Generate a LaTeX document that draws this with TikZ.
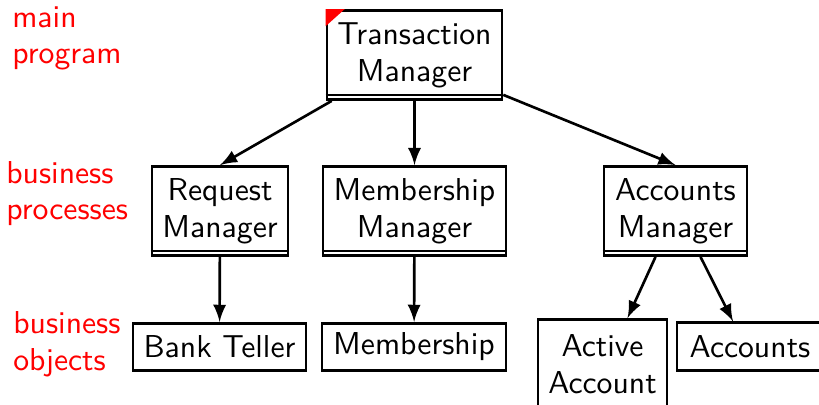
\documentclass[tikz,border=0pt]{standalone}
\usepackage{tikz}
\usetikzlibrary{arrows,calc}

\tikzset{
  module/.style={draw,thick,rectangle,inner sep=0pt,align=center,
                 minimum height=27pt,font=\sffamily\fontsize{9.6}{11.2}\selectfont},
  object/.style={module,minimum height=14.4pt},
  layer/.style={red,anchor=base west,inner sep=0pt,align=left,
                font=\sffamily\fontsize{9.6}{11.2}\selectfont}
}

\begin{document}
\begin{tikzpicture}[x=0.303pt,y=-0.303pt,>=latex,thick]

        \useasboundingbox (0,0) rectangle (819,404);

        % layers (base = last line)
        \node[layer] (Lmain) at (11,64)  {main\\program};
        \node[layer] (Lproc) at (5,220)  {business\\processes};
        \node[layer] (Lobj)  at (12,370) {business\\objects};

        % modules
        \node[module,minimum width=53pt]   (tm) at (414.5,55)  {Transaction\\Manager};
        \node[module,minimum width=41.2pt] (rm) at (220,211)   {Request\\Manager};
        \node[module,minimum width=55.4pt] (mm) at (414.5,211) {Membership\\Manager};
        \node[module,minimum width=43.3pt] (am) at (675.5,211) {Accounts\\Manager};

        \node[object,minimum width=52.4pt] (bt) at (219.5,347) {Bank Teller};
        \node[object,minimum width=55.8pt] (mb) at (414,347)   {Membership};
        \node[module,minimum width=39.1pt] (aa) at (602.5,364) {Active\\Account};
        \node[object,minimum width=44.2pt] (ac) at (750,346.5) {Accounts};

        \fill[red] (tm.north west) -- ++(19,0) -- ++(-19,17) -- cycle;

        \foreach \n in {tm,rm,mm,am}
          \draw ([yshift=1.8pt]\n.south west) -- ([yshift=1.8pt]\n.south east);

        \draw[->] ($(tm.south west)+(6,0)$) -- (rm.north);
        \draw[->] (tm) -- (mm);
        \draw[->] ($(tm.south east)+(0,-6)$) -- (am.north);
        \draw[->] (rm) -- (bt);
        \draw[->] (mm) -- (mb);
        \draw[->] ($(am.south)+(-20,0)$) -- ($(aa.north)+(25,0)$);
        \draw[->] ($(am.south)+(25,0)$) -- ($(ac.north)+(-17,0)$);
      \end{tikzpicture}
\end{document}
